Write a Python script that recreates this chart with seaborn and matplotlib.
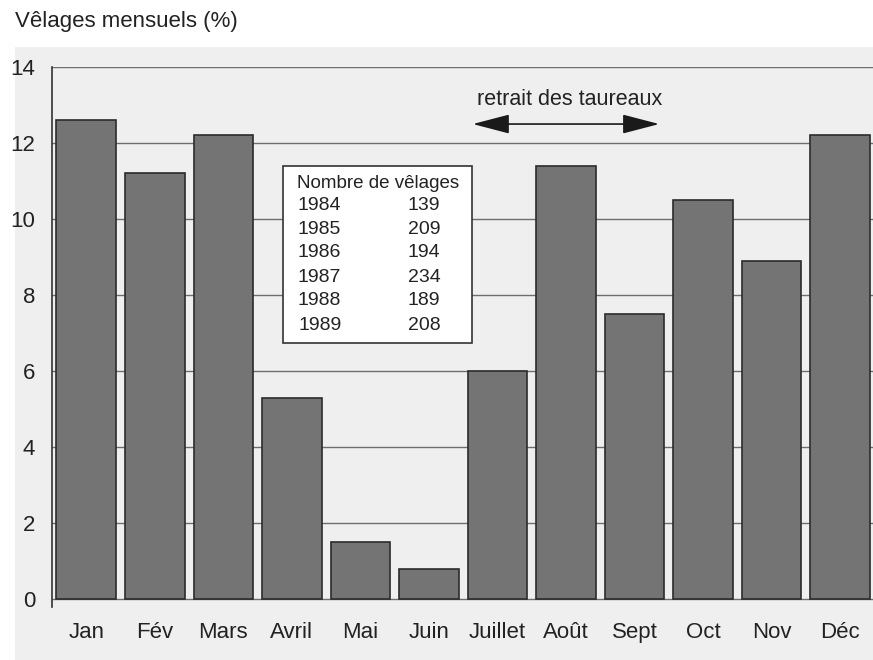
import matplotlib
matplotlib.use('Agg')
import matplotlib.pyplot as plt
import matplotlib.patches as mpatches
import seaborn as sns
import pandas as pd

# donnees
mois = ['Jan', 'Fév', 'Mars', 'Avril', 'Mai', 'Juin',
        'Juillet', 'Août', 'Sept', 'Oct', 'Nov', 'Déc']
velages_pct = [12.6, 11.2, 12.2, 5.3, 1.5, 0.8, 6.0, 11.4, 7.5, 10.5, 8.9, 12.2]

annees = ['1984', '1985', '1986', '1987', '1988', '1989']
nb_velages = ['139', '209', '194', '234', '189', '208']

df = pd.DataFrame({'mois': mois, 'pct': velages_pct})

sns.set_style('white')
plt.rcParams['font.family'] = ['Liberation Sans', 'DejaVu Sans']

fond = '#efefef'
fig = plt.figure(figsize=(8.73, 6.6), dpi=100, facecolor='white')
# panneau gris derriere le graphique
fig.patches.append(mpatches.Rectangle((15 / 873, 0), 1, 1 - 47 / 660,
                                      transform=fig.transFigure,
                                      facecolor=fond, edgecolor='none', zorder=-10))

ax = fig.add_axes([52 / 873, 53 / 660, 821 / 873, 540 / 660])
ax.set_facecolor('none')

sns.barplot(data=df, x='mois', y='pct', ax=ax, color='#747474',
            edgecolor='#2b2b2b', linewidth=1.2, width=0.87, saturation=1,
            zorder=3)

ax.set_xlim(-0.5, 11.48)
ax.set_ylim(-0.2, 14)
ax.set_yticks(range(0, 15, 2))
for yv in range(0, 15, 2):
    ax.axhline(yv, color='#6e6e6e', linewidth=1.0, zorder=1)

for s in ['top', 'right', 'bottom']:
    ax.spines[s].set_visible(False)
ax.spines['left'].set_color('#333333')
ax.spines['left'].set_linewidth(1.2)

ax.tick_params(axis='y', length=9, width=1.2, color='#333333',
               labelsize=16, labelcolor='#222222', pad=3)
ax.tick_params(axis='x', length=0, labelsize=16, labelcolor='#222222', pad=11)
ax.set_xlabel('')
ax.set_ylabel('')

fig.text(15 / 873, 1 - 22 / 660, 'Vêlages mensuels (%)', fontsize=16,
         color='#222222', va='center', ha='left')

# encadre du nombre de velages
ax.add_patch(mpatches.Rectangle((0.2814, 0.4889), 0.2302, 0.3278,
                                transform=ax.transAxes, facecolor='white',
                                edgecolor='#333333', linewidth=1.2, zorder=5))
ax.text(0.397, 0.785, 'Nombre de vêlages', transform=ax.transAxes,
        ha='center', va='center', fontsize=13.5, color='#222222', zorder=6)
lignes_y = [0.744, 0.700, 0.656, 0.611, 0.567, 0.522]
for yy, an, nb in zip(lignes_y, annees, nb_velages):
    ax.text(0.326, yy, an, transform=ax.transAxes, ha='center', va='center',
            fontsize=14, color='#222222', zorder=6)
    ax.text(0.453, yy, nb, transform=ax.transAxes, ha='center', va='center',
            fontsize=14, color='#222222', zorder=6)

# fleche retrait des taureaux
ax.annotate('', xy=(8.36, 12.5), xytext=(5.64, 12.5),
            arrowprops=dict(arrowstyle='<|-|>,head_length=2.3,head_width=0.6',
                            color='#1a1a1a', lw=1.2, shrinkA=0, shrinkB=0),
            zorder=6)
ax.text(7.05, 13.15, 'retrait des taureaux', ha='center', va='center',
        fontsize=15.5, color='#222222', zorder=6)

plt.savefig('out.png', dpi=100, facecolor='white')
